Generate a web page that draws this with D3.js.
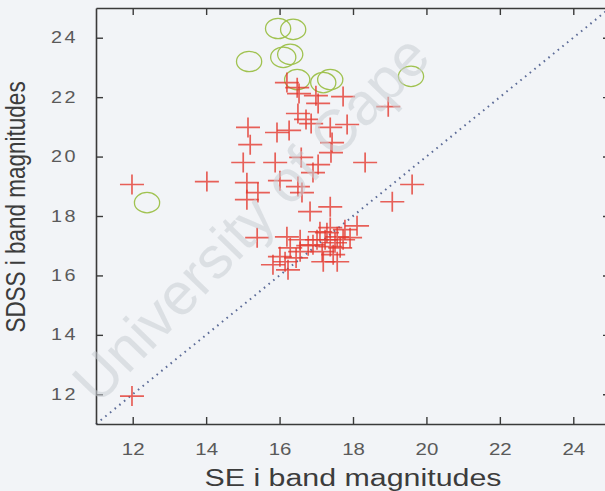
<!DOCTYPE html>
<html>
<head>
<meta charset="utf-8">
<script src="https://cdn.jsdelivr.net/npm/d3@7"></script>
<style>
  html, body { margin: 0; padding: 0; background: #f2f4f7; }
  svg { display: block; }
</style>
</head>
<body>
<svg id="chart" width="605" height="491"></svg>
<script>
// SE vs SDSS i-band magnitudes
// Matched sources (red plus): SE magnitude, SDSS magnitude
const matchedSE = [
  16.20, 16.48, 16.53, 16.99, 17.05, 17.73, 18.96, 16.50, 16.72, 16.86,
  17.38, 17.84, 15.14, 15.20, 15.93, 16.26, 17.43, 17.40, 15.01, 15.88,
  16.59, 17.05, 16.91, 18.33, 11.98, 14.02, 15.11, 16.01, 15.11, 15.41,
  16.50, 16.61, 19.07, 19.61, 16.83, 17.38, 18.11, 15.39, 11.98,
  16.20, 16.56, 16.29, 16.01, 15.82, 16.15, 16.56, 16.91, 17.02, 17.29,
  17.38, 17.57, 17.73, 17.38, 17.16, 17.46, 17.19, 17.92, 17.65, 17.10,
  16.78, 17.78, 17.51, 17.24, 16.45, 17.57, 16.23
];
const matchedSDSS = [
  22.49, 22.32, 22.12, 22.05, 21.79, 22.02, 21.68, 21.45, 21.25, 21.11,
  20.98, 21.08, 20.98, 20.40, 20.81, 20.88, 20.47, 20.13, 19.80, 19.80,
  19.97, 19.73, 19.46, 19.80, 19.06, 19.16, 19.12, 19.19, 18.55, 18.79,
  18.99, 18.79, 18.48, 19.06, 18.15, 18.31, 17.67, 17.27, 11.94,
  17.30, 17.20, 16.93, 16.63, 16.36, 16.46, 16.80, 17.03, 17.20, 17.44,
  17.61, 17.30, 17.20, 16.97, 16.80, 16.70, 16.46, 17.27, 16.93, 17.47,
  17.00, 17.54, 17.10, 17.20, 16.59, 16.46, 16.19
];

// Faint sources (green circles)
const faintSE   = [15.96, 16.37, 15.17, 16.10, 16.29, 16.48, 17.19, 17.38, 19.58, 12.39];
const faintSDSS = [24.31, 24.28, 23.20, 23.34, 23.44, 22.59, 22.49, 22.59, 22.70, 18.45];

const tickValues = [12, 14, 16, 18, 20, 22, 24];
const xTitle = "SE i band magnitudes";
const yTitle = "SDSS i band magnitudes";
const domain = [11, 25];

const svg = d3.select("#chart");
const W = 605, H = 491;
const plotLeft = 96, plotRight = 610, plotTop = 8, plotBottom = 424;
const sx = 1.24; // horizontal stretch of the whole figure

const x = d3.scaleLinear().domain(domain).range([plotLeft, plotRight]);
const y = d3.scaleLinear().domain(domain).range([plotBottom, plotTop]);

svg.append("rect").attr("width", W).attr("height", H).attr("fill", "#f2f4f7");

// one-to-one line
svg.append("line")
  .attr("x1", x(11)).attr("y1", y(11))
  .attr("x2", x(25)).attr("y2", y(25))
  .attr("stroke", "#5d6c98")
  .attr("stroke-width", 2)
  .attr("stroke-dasharray", "1.6,4.4");

// green circles
svg.append("g").selectAll("ellipse")
  .data(d3.range(faintSE.length))
  .join("ellipse")
  .attr("cx", i => x(faintSE[i]))
  .attr("cy", i => y(faintSDSS[i]))
  .attr("rx", 12.6).attr("ry", 10.2)
  .attr("fill", "none")
  .attr("stroke", "#a0c250")
  .attr("stroke-width", 1.3);

// red plus markers
svg.append("g").selectAll("path")
  .data(d3.range(matchedSE.length))
  .join("path")
  .attr("transform", i => `translate(${x(matchedSE[i])},${y(matchedSDSS[i])})`)
  .attr("d", "M-12,0H12M0,-10V10")
  .attr("stroke", "#e43a30")
  .attr("stroke-opacity", 0.8)
  .attr("stroke-width", 1.7)
  .attr("fill", "none");

// axes with inward ticks on all four sides
const axisColor = "#3a3a3a";
function styleAxis(g) {
  g.select(".domain").attr("stroke", axisColor).attr("stroke-width", 1.6);
  g.selectAll(".tick line").attr("stroke", axisColor).attr("stroke-width", 1.4);
  g.selectAll("text")
    .attr("fill", "#5a5a5a")
    .attr("font-family", "Liberation Sans, Arial, sans-serif");
}

const gx = svg.append("g").attr("transform", `translate(0,${plotBottom})`)
  .call(d3.axisBottom(x).tickValues(tickValues).tickSize(-7).tickSizeOuter(0).tickPadding(19));
gx.call(styleAxis);
gx.selectAll("text").attr("font-size", 16.5).attr("transform", `scale(${sx},1)`);

const gt = svg.append("g").attr("transform", `translate(0,${plotTop})`)
  .call(d3.axisTop(x).tickValues(tickValues).tickSize(-7).tickSizeOuter(0).tickFormat(""));
gt.call(styleAxis);

const gy = svg.append("g").attr("transform", `translate(${plotLeft},0)`)
  .call(d3.axisLeft(y).tickValues(tickValues).tickSize(-7).tickSizeOuter(0).tickPadding(14.5));
gy.call(styleAxis);
gy.selectAll("text").attr("font-size", 16).attr("letter-spacing", 2).attr("transform", `scale(${sx},1)`);

const gr = svg.append("g").attr("transform", `translate(${plotRight},0)`)
  .call(d3.axisRight(y).tickValues(tickValues).tickSize(-7).tickSizeOuter(0).tickFormat(""));
gr.call(styleAxis);

// axis titles
svg.append("text")
  .attr("transform", `translate(${(plotLeft + plotRight) / 2},486) scale(${sx},1)`)
  .attr("text-anchor", "middle")
  .attr("font-family", "Liberation Sans, Arial, sans-serif")
  .attr("font-size", 24.5)
  .attr("fill", "#3c3c3c")
  .text(xTitle);

svg.append("text")
  .attr("transform", `translate(25,207) scale(${sx},1) rotate(-90)`)
  .attr("text-anchor", "middle")
  .attr("font-family", "Liberation Sans, Arial, sans-serif")
  .attr("font-size", 22.5)
  .attr("fill", "#3c3c3c")
  .text(yTitle);

// repository watermark
svg.append("text")
  .attr("transform", "translate(98,406) rotate(-46)")
  .attr("font-family", "Liberation Sans, Arial, sans-serif")
  .attr("font-size", 59)
  .attr("fill", "#c9cdd3")
  .attr("fill-opacity", 0.55)
  .text("University of Cape");
</script>
</body>
</html>
